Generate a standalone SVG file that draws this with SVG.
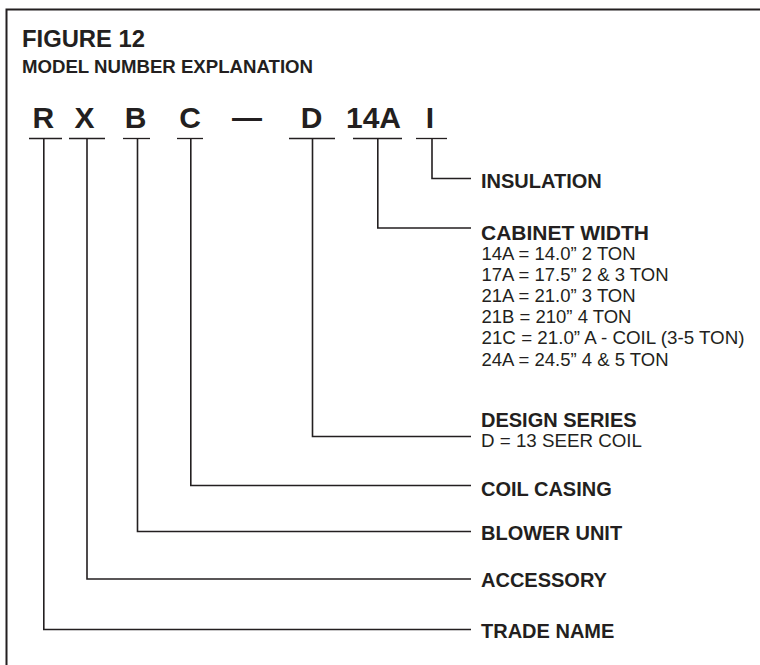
<svg xmlns="http://www.w3.org/2000/svg" width="760" height="665" viewBox="0 0 760 665">
<style>
.b{font-family:"Liberation Sans",Arial,sans-serif;font-weight:bold;fill:#231f20}
.r{font-family:"Liberation Sans",Arial,sans-serif;fill:#231f20;font-size:18.5px}
.big{font-size:30px;text-anchor:middle}
.lab{font-size:20px}
.ul{stroke:#231f20;stroke-width:1.3;fill:none}
.con{stroke:#231f20;stroke-width:1.6;fill:none}
</style>
<rect width="760" height="665" fill="#fff"/>
<path d="M6.5,665 V9.5 H760" fill="none" stroke="#231f20" stroke-width="2"/>
<g id="title">
<text class="b" x="22" y="47" font-size="23" textLength="123" lengthAdjust="spacingAndGlyphs">FIGURE 12</text>
<text class="b" x="22" y="73" font-size="18.5" textLength="291" lengthAdjust="spacingAndGlyphs">MODEL NUMBER EXPLANATION</text>
</g>
<g id="code-R"><text class="b big" x="43.3" y="128">R</text><line class="ul" x1="29" y1="138.5" x2="62" y2="138.5"/></g>
<g id="code-X"><text class="b big" x="84.5" y="128">X</text><line class="ul" x1="69" y1="138.5" x2="105" y2="138.5"/></g>
<g id="code-B"><text class="b big" x="135.5" y="128">B</text><line class="ul" x1="123" y1="138.5" x2="150" y2="138.5"/></g>
<g id="code-C"><text class="b big" x="190" y="128">C</text><line class="ul" x1="177" y1="138.5" x2="203" y2="138.5"/></g>
<g id="dash"><text class="b big" x="247" y="128">—</text></g>
<g id="code-D"><text class="b big" x="311.5" y="128">D</text><line class="ul" x1="289" y1="138.5" x2="335" y2="138.5"/></g>
<g id="code-14A"><text class="b big" x="373.5" y="128">14A</text><line class="ul" x1="353" y1="138.5" x2="402" y2="138.5"/></g>
<g id="code-I"><text class="b big" x="430" y="128">I</text><line class="ul" x1="416" y1="138.5" x2="447" y2="138.5"/></g>
<g id="connectors">
<path class="con" d="M432,138.5 V178.5 H471"/>
<path class="con" d="M377.8,138.5 V228 H471"/>
<path class="con" d="M312.5,138.5 V436.5 H471"/>
<path class="con" d="M190.8,138.5 V485.5 H471"/>
<path class="con" d="M137.5,138.5 V531.5 H471"/>
<path class="con" d="M87,138.5 V579 H471"/>
<path class="con" d="M43.8,138.5 V629.5 H471"/>
</g>
<g id="insulation"><text class="b lab" x="481" y="188">INSULATION</text></g>
<g id="cabinet-width">
<text class="b lab" x="481" y="239.5" textLength="168" lengthAdjust="spacingAndGlyphs">CABINET WIDTH</text>
<text class="r" x="481.5" y="260">14A = 14.0” 2 TON</text>
<text class="r" x="481.5" y="281">17A = 17.5” 2 &amp; 3 TON</text>
<text class="r" x="481.5" y="302">21A = 21.0” 3 TON</text>
<text class="r" x="481.5" y="323">21B = 210” 4 TON</text>
<text class="r" x="481.5" y="344" textLength="263" lengthAdjust="spacingAndGlyphs">21C = 21.0” A - COIL (3-5 TON)</text>
<text class="r" x="481.5" y="365.5">24A = 24.5” 4 &amp; 5 TON</text>
</g>
<g id="design-series">
<text class="b lab" x="481" y="426.7">DESIGN SERIES</text>
<text class="r" x="481" y="447" font-size="17.5" textLength="161" lengthAdjust="spacingAndGlyphs">D = 13 SEER COIL</text>
</g>
<g id="coil-casing"><text class="b lab" x="481" y="496">COIL CASING</text></g>
<g id="blower-unit"><text class="b lab" x="481" y="540">BLOWER UNIT</text></g>
<g id="accessory"><text class="b lab" x="481" y="587">ACCESSORY</text></g>
<g id="trade-name"><text class="b lab" x="481" y="638">TRADE NAME</text></g>
</svg>
